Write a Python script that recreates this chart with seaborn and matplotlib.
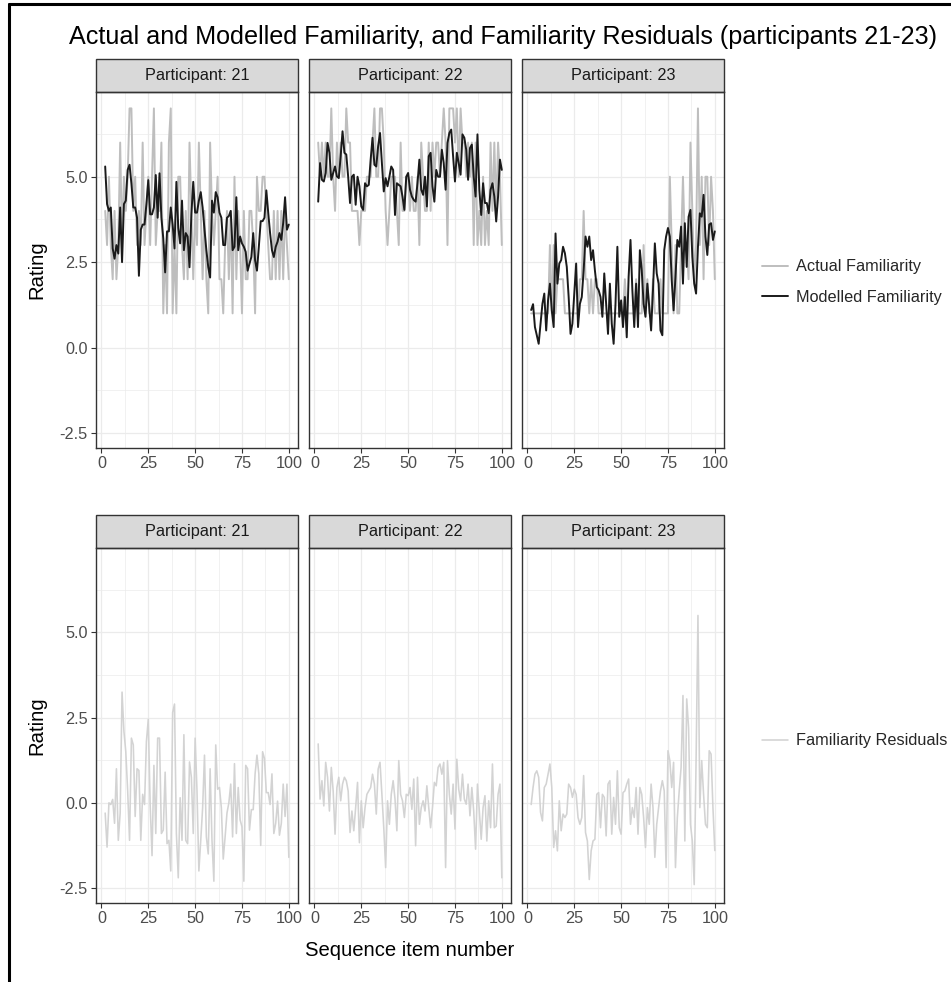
import matplotlib

matplotlib.use("Agg")
import matplotlib.pyplot as plt
import pandas as pd
import seaborn as sns
from matplotlib.lines import Line2D
from matplotlib.patches import Rectangle
from matplotlib.ticker import MultipleLocator

PARTICIPANTS = [21, 22, 23]
ITEMS = list(range(2, 101))

ACTUAL_21 = [
    4, 3, 5, 3, 2, 4, 2, 3, 6, 3,
    5, 4, 5, 7, 7, 4, 5, 3, 4, 3,
    6, 3, 4, 5, 3, 5, 7, 3, 4, 4,
    6, 1, 3, 1, 6, 7, 1, 3, 1, 5,
    5, 3, 2, 4, 2, 6, 4, 2, 4, 3,
    6, 4, 2, 4, 2, 1, 6, 4, 3, 4,
    5, 2, 2, 1, 3, 4, 2, 4, 1, 5,
    2, 4, 3, 1, 4, 2, 2, 4, 4, 3,
    1, 5, 4, 4, 5, 5, 4, 3, 2, 2,
    4, 2, 4, 2, 4, 2, 4, 3, 2,
]
MODELLED_21 = [
    5.3, 4.2, 4.0, 4.1, 2.9, 2.6, 3.0, 2.75, 4.1, 2.5,
    4.2, 4.3, 5.2, 5.35, 4.8, 4.1, 4.1, 3.8, 2.1, 3.45,
    3.6, 3.6, 4.2, 4.9, 3.9, 3.9, 4.1, 5.05, 3.8, 5.1,
    3.8, 3.2, 2.2, 3.4, 3.4, 4.1, 3.6, 2.9, 4.85, 3.5,
    3.05, 4.3, 2.85, 3.35, 3.25, 2.35, 3.9, 4.85, 3.95, 3.95,
    4.3, 4.55, 4.1, 3.45, 2.85, 2.35, 2.05, 4.3, 3.95, 4.55,
    4.4, 3.95, 3.8, 3.0, 3.0, 3.8, 3.85, 4.0, 2.85, 2.95,
    4.4, 2.85, 3.25, 3.05, 2.95, 2.8, 2.25, 2.45, 2.65, 3.35,
    2.55, 2.25, 2.95, 3.7, 3.7, 3.8, 4.6, 3.95, 3.35, 2.85,
    2.65, 2.95, 3.1, 3.35, 3.15, 3.65, 4.4, 3.45, 3.6,
]
RESID_21 = [
    -0.3, -1.3, 0.0, -0.05, 0.1, -0.6, 1.0, -1.1, -0.3, 3.25,
    2.1, 1.5, 0.35, -1.1, 1.9, 1.7, -0.4, 1.0, 0.95, -1.1,
    0.25, -0.05, 1.8, 2.45, -0.05, -1.55, 1.1, -0.9, 1.9, 1.9,
    -0.9, -0.8, 0.9, -1.2, -1.1, -2.0, 2.65, 2.9, -0.9, -2.2,
    0.15, -1.1, 2.0, -1.1, -1.2, 1.2, 0.75, -0.9, 1.9, 0.35,
    -2.0, -1.1, -0.15, 1.4, -1.0, -1.5, 1.0, -1.1, -2.3, 1.7,
    0.4, 0.45, -0.15, -1.65, -1.0, -0.3, 0.0, 0.55, -1.0, 1.15,
    -0.9, 0.45, -0.5, -0.7, -2.3, 1.1, 1.0, -0.8, -0.2, -0.2,
    0.85, 1.4, 0.85, -1.25, 1.5, 1.3, 0.3, 0.3, -0.05, 0.85,
    -0.9, -0.6, 0.05, -0.95, -0.6, 0.55, -0.4, 0.55, -1.6,
]

ACTUAL_22 = [
    6, 5, 6, 5, 6, 5, 5, 7, 5, 4,
    6, 5, 6, 5, 5, 7, 6, 6, 4, 4,
    4, 4, 3, 4, 4, 4, 5, 5, 5, 6,
    7, 5, 5, 7, 7, 6, 4, 3, 4, 5,
    5, 5, 4, 3, 6, 4, 4, 5, 5, 4,
    5, 4, 4, 5, 3, 6, 5, 4, 4, 6,
    4, 6, 5, 6, 6, 5, 6, 7, 6, 3,
    7, 7, 7, 6, 7, 5, 7, 6, 6, 5,
    6, 5, 6, 3, 6, 3, 4, 3, 5, 3,
    4, 3, 6, 4, 6, 4, 6, 5, 3,
]
MODELLED_22 = [
    4.27, 5.4, 4.91, 4.86, 5.11, 5.99, 5.7, 4.91, 5.11, 5.3,
    5.01, 4.96, 5.6, 6.33, 5.7, 5.65, 5.0, 4.23, 5.0, 5.06,
    4.18, 5.0, 4.72, 4.13, 4.03, 4.81, 4.72, 4.76, 5.5, 6.14,
    5.35, 5.3, 5.9, 6.28, 5.4, 4.57, 4.96, 4.72, 5.0, 5.3,
    5.2, 3.88, 4.81, 4.76, 4.72, 4.42, 4.03, 5.0, 5.11, 4.62,
    4.42, 4.32, 4.27, 4.81, 5.5, 4.62, 4.47, 5.0, 4.13, 5.6,
    5.7, 4.72, 4.27, 5.2, 5.0, 5.0, 5.79, 5.4, 4.62, 5.99,
    6.28, 6.38, 5.6, 4.86, 5.7, 5.4, 5.06, 6.24, 6.14, 5.79,
    4.91, 5.84, 5.94, 5.0, 4.42, 6.24, 4.62, 3.88, 4.81, 4.23,
    4.23, 3.93, 4.62, 4.81, 4.42, 3.69, 4.42, 5.5, 5.2,
]
RESID_22 = [
    1.73, 0.11, 0.65, -0.09, 1.19, 0.75, -0.24, 1.04, 0.35, -0.92,
    0.45, 0.75, 0.06, 0.55, 0.75, 0.65, 0.35, -0.87, -0.24, -0.82,
    -0.14, 0.6, -1.17, 0.06, -0.73, -0.14, 0.25, 0.35, 0.45, 0.84,
    0.55, -0.33, 0.99, 1.19, 0.25, -0.73, -1.9, 0.06, -0.63, 0.25,
    0.65, 0.11, -0.82, 1.24, 0.25, 0.06, -0.43, 0.25, 0.21, 0.45,
    -0.19, 0.7, -1.26, 0.75, -0.63, -0.14, 0.06, -0.24, 0.5, -0.14,
    -0.73, -0.14, 0.6, 0.5, 1.04, 1.14, 0.84, 1.19, -1.9, 1.24,
    0.25, -0.33, 0.55, -0.77, 1.28, 0.4, 0.06, 0.84, 0.11, -0.04,
    0.55, -0.38, 0.45, -0.24, -1.36, 0.55, -0.24, -1.07, -0.14, 0.21,
    -1.12, 0.06, -0.73, 1.14, -0.73, -0.68, 0.25, 0.55, -2.2,
]

ACTUAL_23 = [
    1, 1, 1, 1, 1, 1, 1, 1, 1, 1,
    3, 1, 3, 1, 2, 2, 2, 2, 1, 1,
    1, 1, 1, 1, 1, 1, 2, 2, 4, 2,
    2, 1, 2, 1, 2, 2, 1, 1, 1, 1,
    1, 1, 1, 1, 1, 1, 1, 1, 1, 1,
    2, 1, 1, 1, 1, 1, 2, 1, 1, 1,
    3, 1, 2, 1, 1, 2, 1, 1, 1, 2,
    1, 1, 1, 1, 5, 3, 1, 3, 1, 1,
    3, 5, 3, 3, 2, 6, 4, 2, 3, 7,
    3, 5, 2, 5, 5, 3, 5, 4, 2,
]
MODELLED_23 = [
    1.1, 1.27, 0.6, 0.36, 0.11, 0.7, 1.28, 1.58, 0.5,
    1.38, 1.87, 1.09, 0.6, 3.34, 1.87, 2.46, 2.56, 2.95,
    2.76, 2.36, 1.48, 0.4, 0.7, 1.58, 2.46, 0.6, 1.28,
    1.48, 2.26, 3.25, 2.95, 3.25, 2.56, 2.85, 2.26, 1.77,
    1.68, 1.48, 0.9, 2.17, 1.28, 0.4, 1.87, 0.7,
    0.11, 1.28, 2.95, 0.9, 1.38, 0.6, 1.48, 0.3, 2.07,
    3.15, 1.68, 0.6, 1.87, 0.6, 2.85, 2.26, 1.28, 0.9,
    1.87, 1.19, 0.5, 1.68, 3.05, 2.17, 1.87, 0.5, 0.36,
    2.85, 3.25, 3.5, 3.25, 1.97, 1.09, 2.07, 3.15, 2.95,
    3.54, 1.87, 3.64, 2.36, 3.83, 4.03, 2.66, 1.87, 1.58,
    2.95, 3.93, 3.83, 4.47, 3.25, 2.71, 3.6, 3.64, 3.15, 3.4,
]
RESID_23 = [
    -0.05, 0.45, 0.84, 0.94, 0.75, -0.28, -0.53, 0.45,
    0.55, 0.84, 1.14, 0.45, -1.31, -0.82, -1.41, 0.06, -0.82, -0.33,
    -0.43, -0.33, 0.55, 0.45, 0.16, 0.4, 0.25, -0.43,
    -0.63, -0.43, 0.8, -0.87, -1.12, -2.25, -1.41, -1.12, -1.07, 0.25,
    0.3, -0.73, 0.25, 0.16, -0.97, 0.55, 0.65, -0.92, 0.16,
    -0.63, 0.94, -0.73, -0.92, 0.3, 0.35, 0.55, 0.7,
    -0.63, -0.14, -0.43, 0.45, -0.92, 0.45, 0.25, -0.43, -1.31,
    -0.14, -0.63, 0.55, -0.14, -1.6, -0.63, -0.14, 0.35,
    0.65, 0.35, -1.9, 1.53, 1.24, 0.45, 1.19, -1.9, -0.43,
    0.35, 1.04, 3.15, -1.12, 3.05, 2.2, -0.63, -1.12, -2.4, 1.24,
    5.5, -0.14, 1.24, 0.25, -0.63, -0.73, 1.53, 1.43, -0.14, -1.4,
]

X_TICKS = [0, 25, 50, 75, 100]
Y_TICKS = [-2.5, 0.0, 2.5, 5.0]
TITLE = "Actual and Modelled Familiarity, and Familiarity Residuals (participants 21-23)"

sns.set_theme(style="white")
plt.rcParams["font.family"] = ["Liberation Sans", "DejaVu Sans"]

W, H = 951, 982
SMALL = 11.7   # tick labels, strips, legend
MEDIUM = 14.6  # axis titles
COLORS = {
    "Actual Familiarity": "#BEBEBE",
    "Modelled Familiarity": "#1A1A1A",
    "Familiarity Residuals": "#D3D3D3",
}

actual = {21: ACTUAL_21, 22: ACTUAL_22, 23: ACTUAL_23}
modelled = {21: MODELLED_21, 22: MODELLED_22, 23: MODELLED_23}
resid = {21: RESID_21, 22: RESID_22, 23: RESID_23}

frames = []
for p in PARTICIPANTS:
    for name, src in [("Actual Familiarity", actual), ("Modelled Familiarity", modelled),
                      ("Familiarity Residuals", resid)]:
        frames.append(pd.DataFrame({"participant": p, "item": ITEMS,
                                    "value": src[p], "series": name}))
df = pd.concat(frames, ignore_index=True)


def fx(px):
    return px / W


def fy(px):
    return 1 - px / H


fig = plt.figure(figsize=(W / 100, H / 100), dpi=100, facecolor="white")

lefts = [96, 309, 522]
pw = 202
rows = [(92, 448, ["Actual Familiarity", "Modelled Familiarity"]),
        (548, 903, ["Familiarity Residuals"])]
strip_px = 33

for r, (top, bot, series) in enumerate(rows):
    for c, p in enumerate(PARTICIPANTS):
        ax = fig.add_axes([fx(lefts[c]), fy(bot), pw / W, (bot - top) / H])
        sub = df[(df.participant == p) & (df.series.isin(series))]
        lw = 1.4 if r == 0 else 1.15
        sns.lineplot(data=sub, x="item", y="value", hue="series", hue_order=series,
                     palette=[COLORS[s] for s in series], estimator=None, errorbar=None,
                     linewidth=lw, legend=False, ax=ax)
        ax.set_xlim(-2.9, 104.9)
        ax.set_ylim(-2.94, 7.48)
        ax.set_xticks(X_TICKS)
        ax.set_yticks(Y_TICKS)
        ax.xaxis.set_minor_locator(MultipleLocator(12.5))
        ax.yaxis.set_minor_locator(MultipleLocator(1.25))
        ax.grid(which="major", color="#EBEBEB", linewidth=0.9)
        ax.grid(which="minor", color="#EBEBEB", linewidth=0.5)
        ax.set_axisbelow(True)
        ax.set_xlabel("")
        ax.set_ylabel("")
        ax.tick_params(which="major", length=3.5, width=0.8, color="#333333",
                       labelsize=SMALL, labelcolor="#4D4D4D", pad=2.5,
                       bottom=True, left=(c == 0))
        ax.tick_params(which="minor", length=0)
        ax.set_xticklabels([str(t) for t in X_TICKS])
        if c == 0:
            ax.set_yticklabels([f"{t:.1f}" for t in Y_TICKS])
        else:
            ax.set_yticklabels([])
        for sp in ax.spines.values():
            sp.set_color("#333333")
            sp.set_linewidth(1.0)
        sh = strip_px / (bot - top)
        ax.add_patch(Rectangle((0, 1), 1, sh, transform=ax.transAxes, clip_on=False,
                               facecolor="#D9D9D9", edgecolor="#333333", linewidth=1.0))
        ax.text(0.5, 1 + sh / 2, f"Participant: {p}", transform=ax.transAxes,
                ha="center", va="center", fontsize=SMALL, color="#1A1A1A")
    fig.text(fx(37), fy((top + bot) / 2), "Rating", rotation=90, ha="center",
             va="center", fontsize=MEDIUM, color="black")

# legends
top_handles = [Line2D([], [], color=COLORS[s], lw=1.4)
               for s in ["Actual Familiarity", "Modelled Familiarity"]]
fig.legend(top_handles, ["Actual Familiarity", "Modelled Familiarity"],
           loc="center left", bbox_to_anchor=(fx(762), fy(282)), frameon=False,
           fontsize=SMALL, handlelength=1.6, handletextpad=0.5, labelspacing=0.95,
           borderpad=0, borderaxespad=0)
bot_handles = [Line2D([], [], color=COLORS["Familiarity Residuals"], lw=1.15)]
fig.legend(bot_handles, ["Familiarity Residuals"], loc="center left",
           bbox_to_anchor=(fx(762), fy(741)), frameon=False, fontsize=SMALL,
           handlelength=1.6, handletextpad=0.5, borderpad=0, borderaxespad=0)

fig.text(fx(503), fy(37), TITLE, ha="center", va="center", fontsize=18.1, color="black")
fig.text(fx(410), fy(950), "Sequence item number", ha="center", va="center",
         fontsize=MEDIUM, color="black")

# frame lines along the top and left edge
fig.add_artist(Line2D([fx(9), fx(9)], [0, fy(4)], color="black", lw=2.2))
fig.add_artist(Line2D([fx(9), 1], [fy(4), fy(4)], color="black", lw=2.2))

fig.savefig("out.png", dpi=100, facecolor="white")
plt.close(fig)
